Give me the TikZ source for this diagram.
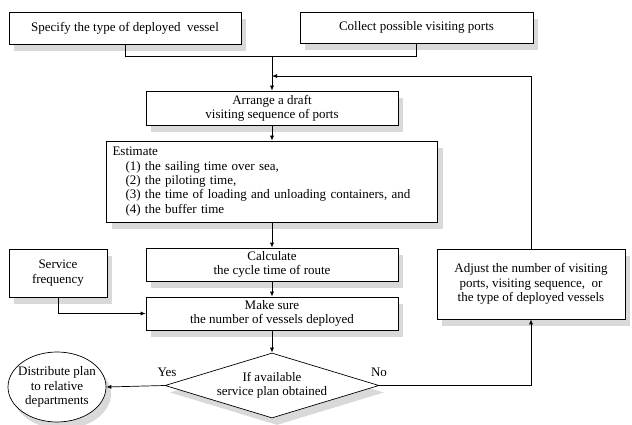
\documentclass[tikz,border=0pt]{standalone}
\usepackage{fontspec}
\setmainfont{Liberation Serif}
\usetikzlibrary{shapes.geometric,arrows.meta,shadows}

\begin{document}
\begin{tikzpicture}[x=1pt,y=-1pt,line width=0.7pt,
  every node/.style={font=\fontsize{13}{14.3}\selectfont},
  shade/.style={drop shadow={shadow xshift=5pt,shadow yshift=-7pt,fill=gray!55,opacity=.55}},
  box/.style={draw,rectangle,fill=white,align=center,inner sep=2pt,shade},
  flow/.style={-{Latex[length=5pt,width=4pt]}}]
\useasboundingbox (0,0) rectangle (632,425);
%
% top row
\node[box,minimum width=232pt,minimum height=32pt] (spec) at (125,28) {Specify the type of deployed~ vessel};
\node[box,minimum width=233pt,minimum height=31pt] (coll) at (416.5,27.5) {Collect possible visiting ports};
\coordinate (join) at (272,56);
\coordinate (back) at (272,76);
%
% main column
\node[box,minimum width=252pt,minimum height=34pt] (arr) at (272,108) {Arrange a draft\\visiting sequence of ports};
\node[box,minimum width=331pt,minimum height=81pt,text width=319pt,align=left] (est) at (272,181.5)
  {Estimate\\
   \hspace*{13pt}(1) the sailing time over sea,\\
   \hspace*{13pt}(2) the piloting time,\\
   \hspace*{13pt}(3) the time of loading and unloading containers, and\\
   \hspace*{13pt}(4) the buffer time};
\node[box,minimum width=252pt,minimum height=33pt] (calc) at (272,264.5) {Calculate\\the cycle time of route};
\node[box,minimum width=252pt,minimum height=33pt] (make) at (272,313.5) {Make sure\\the number of vessels deployed};
%
% side boxes
\node[box,minimum width=98pt,minimum height=48pt] (serv) at (58,273) {Service\\frequency};
\node[box,minimum width=188pt,minimum height=70pt] (adj) at (531,284)
  {Adjust the number of visiting\\ports, visiting sequence,~ or\\the type of deployed vessels};
%
% decision and end
\node[diamond,draw,fill=white,shade,inner sep=0pt,minimum width=214pt,minimum height=65pt,
  label={[align=center]center:If available\\service plan obtained}] (dec) at (272,385.5) {};
\node[ellipse,draw,fill=white,shade,inner sep=0pt,minimum width=98pt,minimum height=70pt,
  label={[align=center]center:Distribute plan\\to relative\\departments}] (dist) at (57,387) {};
\node (yes) at (167,372) {Yes};
\node (no) at (379,372) {No};
%
% connectors
\draw (spec.south) -- (spec.south |- join) -- (coll.south |- join) -- (coll.south);
\draw[flow] (join) -- (arr.north);
\draw[flow] (arr.south) -- (est.north);
\draw[flow] (est.south) -- (calc.north);
\draw[flow] (calc.south) -- (make.north);
\draw[flow] (serv.south) |- (make.west);
\draw[flow] (make.south) -- (dec.north);
\draw[flow] (dec.west) -- (dist.east);
\draw[flow] (dec.east) -| (adj.south);
\draw[flow] (adj.north) |- (back);
\end{tikzpicture}
\end{document}
